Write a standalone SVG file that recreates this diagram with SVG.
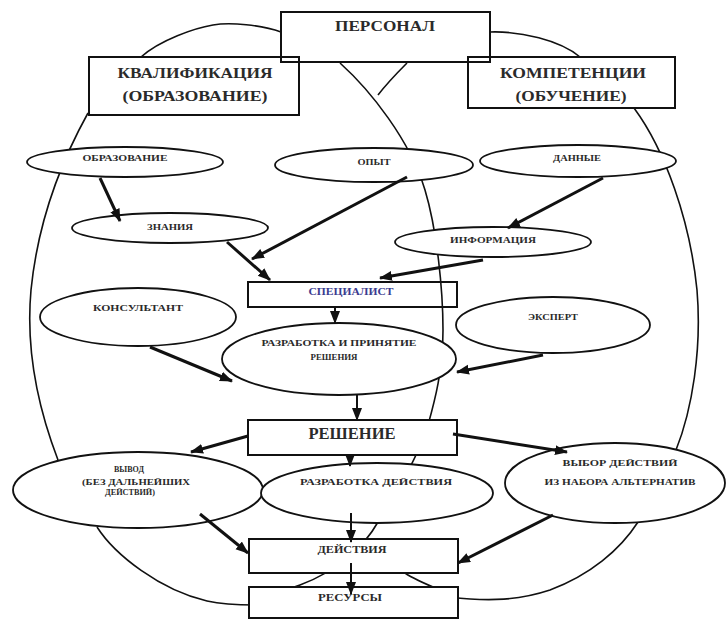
<svg xmlns="http://www.w3.org/2000/svg" width="726" height="619" viewBox="0 0 726 619">
<style>
.bg{fill:#fff}
.curve{fill:none;stroke:#111;stroke-width:1.6}
.box{fill:#fff;stroke:#111;stroke-width:2}
.open{fill:none;stroke:#111;stroke-width:2}
.ell{fill:#fff;stroke:#111;stroke-width:1.8}
.t{font-family:"Liberation Serif","Times New Roman",serif;font-weight:bold;fill:#2a2a2a;text-anchor:middle}
.s{font-size:9px}
.m{font-size:10px}
.l{font-size:15px}
.xl{font-size:17px}
.arr{fill:none;stroke:#111;stroke-width:3;marker-end:url(#ah)}
.arr2{fill:none;stroke:#111;stroke-width:2;marker-end:url(#ah)}
</style>
<defs>
<marker id="ah" markerUnits="userSpaceOnUse" markerWidth="14" markerHeight="12" refX="12" refY="5" orient="auto">
<path d="M0,0 L13,5 L0,10 z" fill="#111"/>
</marker>
</defs>
<rect class="bg" x="0" y="0" width="726" height="619"/>
<g id="outline">
<path class="curve" d="M281,32 C262,25 230,22 213,25 C195,28 160,40 141,57"/>
<path class="curve" d="M88,113 C62,160 38,220 31,290 C26,345 35,400 58,460"/>
<path class="curve" d="M97,527 C115,555 160,590 207,601 C225,605 240,605 255,605"/>
<path class="curve" d="M490,32 C520,31 560,40 580,57"/>
<path class="curve" d="M634,108 C665,150 690,220 697,290 C702,350 692,410 676,450"/>
<path class="curve" d="M638,522 C620,550 590,575 550,590 C520,600 490,602 450,597"/>
<path class="curve" d="M340,63 C370,90 410,140 425,190 C437,230 443,290 443,330 C443,370 435,400 428,425 C420,450 400,490 378,522 C365,545 340,570 300,585 C290,589 280,591 265,594"/>
<path class="curve" d="M407,63 C398,72 388,82 378,95"/>
<path class="curve" d="M405,573 C415,580 428,585 445,592"/>
</g>
<g id="personal"><rect class="open" x="281" y="12" width="209" height="50"/><text class="t l" x="385" y="31" textLength="100" lengthAdjust="spacingAndGlyphs">ПЕРСОНАЛ</text></g>
<g id="kvalifikacia"><rect class="open" x="89" y="57" width="210" height="58"/><text class="t l" x="195" y="78" textLength="155" lengthAdjust="spacingAndGlyphs">КВАЛИФИКАЦИЯ</text><text class="t l" x="195" y="101" textLength="145" lengthAdjust="spacingAndGlyphs">(ОБРАЗОВАНИЕ)</text></g>
<g id="kompetencii"><rect class="open" x="468" y="57" width="207" height="51"/><text class="t l" x="573" y="78" textLength="146" lengthAdjust="spacingAndGlyphs">КОМПЕТЕНЦИИ</text><text class="t l" x="571" y="101" textLength="111" lengthAdjust="spacingAndGlyphs">(ОБУЧЕНИЕ)</text></g>
<g id="obrazovanie"><ellipse class="ell" cx="125" cy="162" rx="98" ry="15"/><text class="t s" x="125" y="161" textLength="85" lengthAdjust="spacingAndGlyphs">ОБРАЗОВАНИЕ</text></g>
<g id="opyt"><ellipse class="ell" cx="374" cy="165" rx="99" ry="17"/><text class="t s" x="374" y="165" textLength="33" lengthAdjust="spacingAndGlyphs">ОПЫТ</text></g>
<g id="dannye"><ellipse class="ell" cx="578" cy="161" rx="98" ry="16"/><text class="t s" x="577" y="161" textLength="48" lengthAdjust="spacingAndGlyphs">ДАННЫЕ</text></g>
<g id="znania"><ellipse class="ell" cx="170" cy="228" rx="98" ry="15"/><text class="t s" x="170" y="230" textLength="46" lengthAdjust="spacingAndGlyphs">ЗНАНИЯ</text></g>
<g id="informacia"><ellipse class="ell" cx="493" cy="242" rx="98" ry="15"/><text class="t s" x="493" y="243" textLength="86" lengthAdjust="spacingAndGlyphs">ИНФОРМАЦИЯ</text></g>
<g id="specialist"><rect class="open" x="248" y="282" width="209" height="25"/><text class="t m" x="351" y="295" textLength="85" lengthAdjust="spacingAndGlyphs" style="fill:#3b3b8f">СПЕЦИАЛИСТ</text></g>
<g id="konsultant"><ellipse class="ell" cx="138" cy="317" rx="98" ry="29"/><text class="t s" x="138" y="311" textLength="90" lengthAdjust="spacingAndGlyphs">КОНСУЛЬТАНТ</text></g>
<g id="ekspert"><ellipse class="ell" cx="553" cy="325" rx="97" ry="28"/><text class="t s" x="553" y="320" textLength="50" lengthAdjust="spacingAndGlyphs">ЭКСПЕРТ</text></g>
<g id="razrabotka-prinyatie"><ellipse class="ell" cx="339" cy="359" rx="117" ry="36"/><text class="t s" x="339" y="346" textLength="155" lengthAdjust="spacingAndGlyphs">РАЗРАБОТКА И ПРИНЯТИЕ</text><text class="t s" x="334" y="360" textLength="47" lengthAdjust="spacingAndGlyphs">РЕШЕНИЯ</text></g>
<g id="reshenie"><rect class="box" x="248" y="420" width="209" height="35"/><text class="t xl" x="352" y="439" textLength="87" lengthAdjust="spacingAndGlyphs">РЕШЕНИЕ</text></g>
<g id="vyvod"><ellipse class="ell" cx="138" cy="490" rx="125" ry="38"/><text class="t s" x="129" y="472" textLength="30" lengthAdjust="spacingAndGlyphs">ВЫВОД</text><text class="t s" x="136" y="485" textLength="108" lengthAdjust="spacingAndGlyphs">(БЕЗ ДАЛЬНЕЙШИХ</text><text class="t s" x="130" y="495" textLength="50" lengthAdjust="spacingAndGlyphs">ДЕЙСТВИЙ)</text></g>
<g id="razrabotka-deistvia"><ellipse class="ell" cx="377" cy="493" rx="116" ry="30"/><text class="t s" x="376" y="485" textLength="152" lengthAdjust="spacingAndGlyphs">РАЗРАБОТКА ДЕЙСТВИЯ</text></g>
<g id="vybor"><ellipse class="ell" cx="615" cy="483" rx="110" ry="40"/><text class="t s" x="620" y="466" textLength="115" lengthAdjust="spacingAndGlyphs">ВЫБОР ДЕЙСТВИЙ</text><text class="t s" x="620" y="485" textLength="151" lengthAdjust="spacingAndGlyphs">ИЗ НАБОРА АЛЬТЕРНАТИВ</text></g>
<g id="deistvia"><rect class="box" x="249" y="539" width="209" height="34"/><text class="t m" x="352" y="553" textLength="69" lengthAdjust="spacingAndGlyphs">ДЕЙСТВИЯ</text></g>
<g id="resursy"><rect class="box" x="249" y="587" width="209" height="31"/><text class="t m" x="350" y="601" textLength="64" lengthAdjust="spacingAndGlyphs">РЕСУРСЫ</text></g>
<g id="connectors">
<path class="arr" d="M100,178 L120,221"/>
<path class="arr" d="M407,177 L252,259"/>
<path class="arr" d="M227,242 L270,280"/>
<path class="arr" d="M603,178 L508,228"/>
<path class="arr" d="M483,260 L380,278"/>
<path class="arr2" d="M335,307 L335,323"/>
<path class="arr" d="M150,347 L232,381"/>
<path class="arr" d="M543,355 L457,372"/>
<path class="arr2" d="M357,395 L357,420"/>
<path class="arr" d="M248,436 L191,452"/>
<path class="arr" d="M453,434 L567,452"/>
<path class="arr2" d="M350,455 L350,466"/>
<path class="arr2" d="M351,513 L351,542"/>
<path class="arr2" d="M351,563 L351,594"/>
<path class="arr" d="M200,514 L248,553"/>
<path class="arr" d="M553,515 L458,563"/>
</g>
</svg>
